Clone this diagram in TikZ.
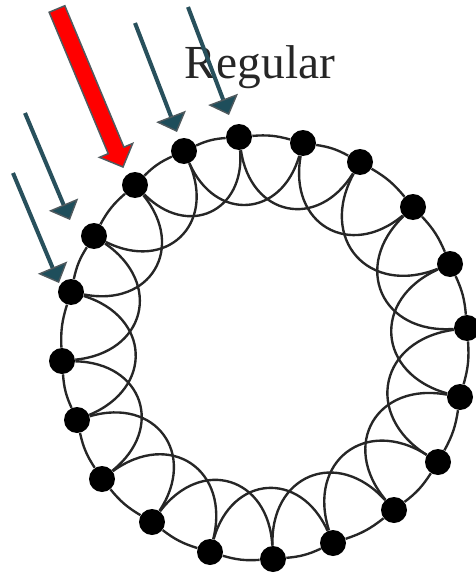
\documentclass[tikz,border=0pt]{standalone}
\usepackage{fontspec}
\setmainfont{Liberation Serif}
\usetikzlibrary{arrows.meta, calc, backgrounds}
\definecolor{pointer}{HTML}{1E4E5B}
\definecolor{rim}{HTML}{505A5E}

\begin{document}
\begin{tikzpicture}[
    x=0.02cm, y=-0.02cm,
    vertex/.style={circle, fill=black, inner sep=0pt, minimum size=0.52cm},
    ring/.style={line width=1.35pt, draw=black!85, bend left=10},
    chord/.style={line width=1.35pt, draw=black!85, bend right=70, looseness=1.5},
    pointer/.style={line width=2.3pt, draw=pointer!80!rim,
                    -{Triangle[width=18pt, length=9.5pt, fill=pointer,
                               color=rim, line width=0.8pt]}},
    bigpointer/.style={fill=red, draw=rim, line width=0.85pt},
    title/.style={font=\fontsize{27}{30}\selectfont, text=black!85, anchor=base}
]
\useasboundingbox (0,0) rectangle (476,575);
% Vertices of the ring
\foreach \x/\y [count=\i] in {239/137, 303/143, 360/162, 413/207, 450/264,
    467/328, 460/397, 438/462, 394/510, 333/543, 273/559, 210/552,
    152/522, 102/479, 77/420, 62/361, 71/292, 94/236, 135/185, 184/151}
  \node[vertex] (v\i) at (\x,\y) {};
% Neighbour links and second-neighbour arcs
\begin{scope}[on background layer]
\foreach \i in {1,...,20} {
  \pgfmathtruncatemacro{\j}{mod(\i,20)+1}
  \pgfmathtruncatemacro{\k}{mod(\i+1,20)+1}
  \draw[ring] (v\i) to (v\j);
  \draw[chord] (v\i) to (v\k);
}
\end{scope}
% Title
\node[title] (label) at (260,78) {Regular};
% Thin pointers
\foreach \v/\dx/\dy/\sx/\sy in {1/-10/-22/188/7, 20/-7/-19/135/23,
    18/-24/-16/25/113, 17/-12/-9/13/173} {
  \coordinate (s\v) at (\sx,\sy);
  \draw[pointer] (s\v) -- ([shift={(\dx,\dy)}]v\v.center);
}
% Big red pointer
\coordinate (rs) at (57,9);
\coordinate (rt) at ([shift={(-12,-18)}]v19.center);
\coordinate (rb) at ($(rt)!0.36cm!(rs)$);
\filldraw[bigpointer] ($(rs)!0.17cm!90:(rt)$) -- ($(rb)!0.17cm!-90:(rs)$)
  -- ($(rb)!0.36cm!-90:(rs)$) -- (rt) -- ($(rb)!0.36cm!90:(rs)$)
  -- ($(rb)!0.17cm!90:(rs)$) -- ($(rs)!0.17cm!-90:(rt)$) -- cycle;
\end{tikzpicture}
\end{document}
